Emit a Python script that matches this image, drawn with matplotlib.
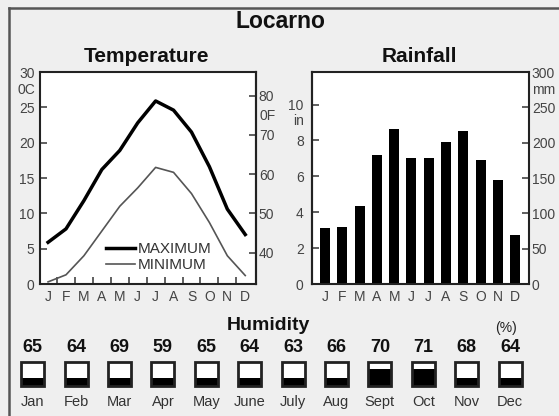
import numpy as np
import matplotlib
matplotlib.use("Agg")
import matplotlib.pyplot as plt
from matplotlib.patches import Rectangle
from matplotlib.lines import Line2D
from matplotlib import font_manager as fm

# ---------------- data ----------------
months_short = ['J', 'F', 'M', 'A', 'M', 'J', 'J', 'A', 'S', 'O', 'N', 'D']
temp_max = [5.9, 7.8, 11.8, 16.2, 18.9, 22.8, 25.9, 24.6, 21.5, 16.6, 10.6, 7.0]
temp_min = [0.3, 1.3, 4.0, 7.5, 11.0, 13.6, 16.5, 15.8, 12.8, 8.7, 4.0, 1.2]
rain_mm = [79, 81, 111, 182, 219, 179, 178, 201, 216, 175, 147, 70]
hum_months = ['Jan', 'Feb', 'Mar', 'Apr', 'May', 'June', 'July', 'Aug',
              'Sept', 'Oct', 'Nov', 'Dec']
humidity = [65, 64, 69, 59, 65, 64, 63, 66, 70, 71, 68, 64]
humidity_fill = [0.33, 0.33, 0.33, 0.33, 0.33, 0.33, 0.33, 0.33,
                 0.7, 0.7, 0.33, 0.33]
temp_c_ticks = [0, 5, 10, 15, 20, 25, 30]
temp_f_ticks = [40, 50, 60, 70, 80]
rain_mm_ticks = [0, 50, 100, 150, 200, 250, 300]
rain_in_ticks = [0, 2, 4, 6, 8, 10]

# ---------------- fonts ----------------
avail = {f.name for f in fm.fontManager.ttflist}
if 'Liberation Sans Narrow' in avail:
    TICKF = dict(family='Liberation Sans Narrow', size=12)
else:
    TICKF = dict(family='Liberation Sans', size=10)
REG = 'Liberation Sans'
GRAY = '#444444'
DARK = '#222222'

W, H = 559, 416
fig = plt.figure(figsize=(W / 100, H / 100), dpi=100, facecolor='#efefef')


def rect(l, t, r, b):
    return [l / W, 1 - b / H, (r - l) / W, (b - t) / H]


def ftext(x, y, s, **kw):
    fig.text(x / W, 1 - y / H, s, **kw)


def style_ticklabels(ax):
    for lab in ax.get_xticklabels() + ax.get_yticklabels():
        lab.set_fontfamily(TICKF['family'])
        lab.set_fontsize(TICKF['size'])
        lab.set_color(GRAY)


# frame
fig.add_artist(Line2D([9 / W, 9 / W], [0, 1 - 8 / H], transform=fig.transFigure,
                      color='#555555', lw=1.8))
fig.add_artist(Line2D([9 / W, 1], [1 - 8 / H, 1 - 8 / H], transform=fig.transFigure,
                      color='#555555', lw=1.8))

# titles
ftext(280, 22, 'Locarno', ha='center', va='center', family=REG,
      weight='bold', size=16.5, color='#111111')
ftext(147, 57, 'Temperature', ha='center', va='center', family=REG,
      weight='bold', size=15, color='#111111')
ftext(419, 57, 'Rainfall', ha='center', va='center', family=REG,
      weight='bold', size=15, color='#111111')

x = np.arange(len(months_short))

# ---------------- temperature ----------------
ax_t = fig.add_axes(rect(40, 72, 256, 284))
ax_t.set_facecolor('white')
ax_t.plot(x, temp_max, color='black', lw=2.5, label='MAXIMUM',
          solid_joinstyle='round')
ax_t.plot(x, temp_min, color='#555555', lw=1.2, label='MINIMUM')
ax_t.set_xlim(-0.45, 11.6)
ax_t.set_ylim(0, 30)
ax_t.set_yticks(temp_c_ticks)
ax_t.set_xticks(x, months_short)
ax_t.set_xticks(np.arange(0.5, 11), minor=True)
ax_t.tick_params(axis='x', which='major', length=0, pad=4)
ax_t.tick_params(axis='x', which='minor', direction='in', length=5,
                 width=1.2, color=GRAY)
ax_t.tick_params(axis='y', direction='in', length=5, width=1.2,
                 color=GRAY, pad=4)
for s in ax_t.spines.values():
    s.set_linewidth(1.5)
    s.set_color(DARK)
style_ticklabels(ax_t)

sec_t = ax_t.secondary_yaxis('right', functions=(lambda c: c * 9 / 5 + 32,
                                                  lambda f: (f - 32) * 5 / 9))
sec_t.set_yticks(temp_f_ticks)
sec_t.tick_params(direction='in', length=5, width=1.2, color=GRAY, pad=2)
sec_t.spines['right'].set_linewidth(1.5)
sec_t.spines['right'].set_color(DARK)
style_ticklabels(sec_t)

leg = ax_t.legend(loc='upper left', bbox_to_anchor=(106 / W, 1 - 242 / H),
                  bbox_transform=fig.transFigure, frameon=False,
                  borderpad=0, borderaxespad=0, handlelength=1.9,
                  handletextpad=0.15, labelspacing=0.15,
                  prop=dict(family=REG, size=11))
for t in leg.get_texts():
    t.set_color('#333333')

ftext(35, 90, '0C', ha='right', va='center', color=GRAY, **TICKF)
ftext(260, 116, '0F', ha='left', va='center', color=GRAY, **TICKF)

# ---------------- rainfall ----------------
ax_r = fig.add_axes(rect(312, 72, 529, 284))
ax_r.set_facecolor('white')
ax_r.bar(x, rain_mm, width=0.58, color='black')
ax_r.set_xlim(-0.75, 11.8)
ax_r.set_ylim(0, 300)
ax_r.yaxis.tick_right()
ax_r.set_yticks(rain_mm_ticks)
ax_r.set_xticks(x, months_short)
ax_r.tick_params(axis='x', length=0, pad=4)
ax_r.tick_params(axis='y', direction='in', length=5, width=1.2,
                 color=GRAY, pad=2)
for s in ax_r.spines.values():
    s.set_linewidth(1.5)
    s.set_color(DARK)
style_ticklabels(ax_r)

sec_r = ax_r.secondary_yaxis('left', functions=(lambda m: m / 25.4,
                                                 lambda i: i * 25.4))
sec_r.set_yticks(rain_in_ticks)
sec_r.tick_params(direction='in', length=5, width=1.2, color=GRAY, pad=6)
sec_r.spines['left'].set_linewidth(1.5)
sec_r.spines['left'].set_color(DARK)
style_ticklabels(sec_r)

ftext(304, 121, 'in', ha='right', va='center', color=GRAY, **TICKF)
ftext(532, 90, 'mm', ha='left', va='center', color=GRAY, **TICKF)

# ---------------- humidity ----------------
ftext(268, 325, 'Humidity', ha='center', va='center', family=REG,
      weight='bold', size=14, color='#111111')
ftext(506, 328, '(%)', ha='center', va='center', family=REG, size=10,
      color='#222222')

ax_h = fig.add_axes(rect(11, 316, 531.8, 416))
ax_h.set_xlim(-0.5, 11.5)
ax_h.set_ylim(416, 316)
ax_h.axis('off')
bw, btop, bh = 0.53, 362, 24
for i, (h, f, m) in enumerate(zip(humidity, humidity_fill, hum_months)):
    ax_h.add_patch(Rectangle((i - bw / 2, btop), bw, bh, fc='white',
                             ec='none'))
    ax_h.add_patch(Rectangle((i - bw / 2, btop + bh * (1 - f)), bw, bh * f,
                             fc='black', ec='none'))
    ax_h.add_patch(Rectangle((i - bw / 2, btop), bw, bh, fc='none',
                             ec=DARK, lw=2.0))
    ax_h.text(i, 348, str(h), ha='center', va='center', family=REG,
              weight='bold', size=13, color='#111111')
    ax_h.text(i, 402, m, ha='center', va='center', family=REG, size=10.5,
              color='#333333')

fig.savefig('out.png', dpi=100, facecolor=fig.get_facecolor())
